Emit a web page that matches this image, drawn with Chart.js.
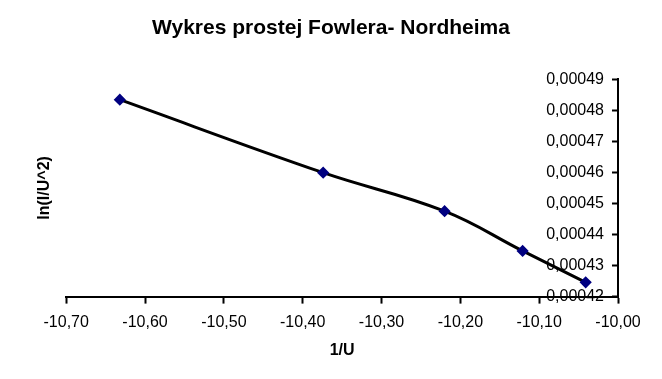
<!DOCTYPE html>
<html>
<head>
<meta charset="utf-8">
<script src="https://cdn.jsdelivr.net/npm/chart.js@4/dist/chart.umd.min.js"></script>
<style>
  body { margin: 0; background: #fff; }
  #wrap { width: 662px; height: 379px; }
</style>
</head>
<body>
<div id="wrap"><canvas id="chart"></canvas></div>
<script>
const xValues = [-10.632, -10.374, -10.220, -10.121, -10.041]; // 1/U
const yValues = [0.0004834, 0.0004599, 0.0004475, 0.0004347, 0.0004246]; // ln(I/U^2)

const chartTitle = 'Wykres prostej Fowlera- Nordheima';
const xTitle = '1/U';
const yTitle = 'ln(I/U^2)';

const xMin = -10.7, xMax = -10.0, xStep = 0.1;
const yMin = 0.00042, yMax = 0.00049, yStep = 0.00001;

Chart.defaults.font.family = "'Liberation Sans', Arial, sans-serif";
Chart.defaults.color = '#000';

const points = xValues.map((x, i) => ({ x: x, y: yValues[i] }));

new Chart(document.getElementById('chart').getContext('2d'), {
  type: 'scatter',
  data: {
    datasets: [{
      data: points,
      showLine: true,
      tension: 0.4,
      borderColor: '#000',
      borderWidth: 3,
      pointStyle: 'rectRot',
      pointRadius: 4,
      pointBackgroundColor: '#000080',
      pointBorderColor: '#000080',
      xAxisID: 'x',
      yAxisID: 'y'
    }]
  },
  options: {
    responsive: true,
    maintainAspectRatio: false,
    animation: false,
    layout: { padding: { top: 0, left: 22, right: 22, bottom: 15 } },
    plugins: {
      legend: { display: false },
      tooltip: { enabled: false },
      title: {
        display: true,
        text: chartTitle,
        font: { size: 21, weight: 'bold' },
        padding: { top: 16, bottom: 38 }
      }
    },
    scales: {
      x: {
        type: 'linear',
        position: 'bottom',
        min: xMin,
        max: xMax,
        border: { display: true, color: '#000', width: 2 },
        grid: { drawOnChartArea: false, color: '#000', tickLength: 7, tickWidth: 2 },
        ticks: {
          stepSize: xStep,
          padding: 9,
          maxRotation: 0,
          font: { size: 16 },
          callback: (v) => v.toFixed(2).replace('.', ',')
        },
        title: {
          display: true,
          text: xTitle,
          font: { size: 16, weight: 'bold' },
          padding: { top: 0, bottom: 4 }
        }
      },
      y: {
        type: 'linear',
        position: 'right',
        min: yMin,
        max: yMax,
        border: { display: true, color: '#000', width: 2 },
        grid: { drawOnChartArea: false, color: '#000', tickLength: -6, tickWidth: 2 },
        ticks: {
          stepSize: yStep,
          mirror: true,
          padding: -14,
          font: { size: 16 },
          callback: (v) => v.toFixed(5).replace('.', ',')
        },
        afterFit: (scale) => { scale.width = 22; }
      },
      // only carries the y title on the left side
      yl: {
        type: 'linear',
        position: 'left',
        border: { display: false },
        grid: { display: false, drawTicks: false },
        ticks: { display: false },
        title: {
          display: true,
          text: yTitle,
          font: { size: 16, weight: 'bold' },
          padding: { top: 13, bottom: 12 }
        }
      }
    }
  }
});
</script>
</body>
</html>
